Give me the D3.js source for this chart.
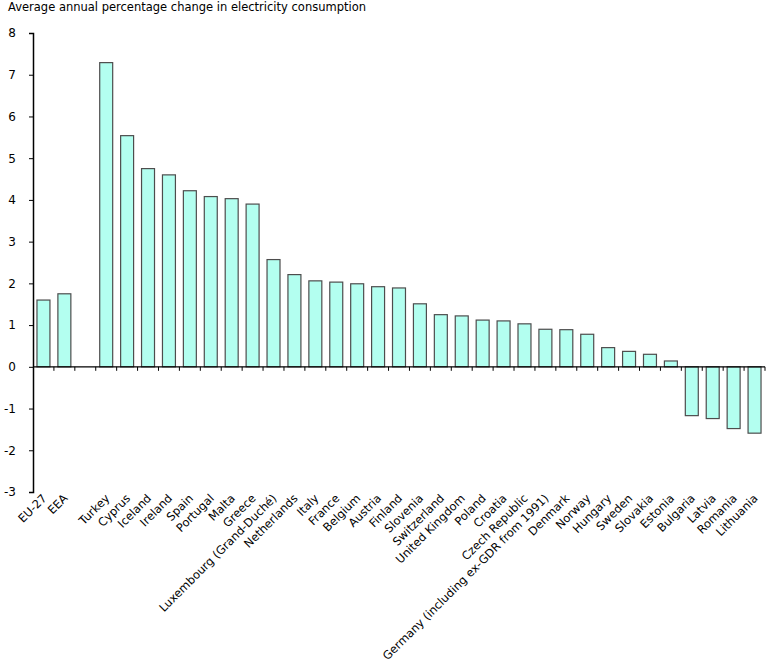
<!DOCTYPE html>
<html>
<head>
<meta charset="utf-8">
<script src="https://cdn.jsdelivr.net/npm/d3@7"></script>
<style>
  body { margin: 0; background: #fff; }
  svg text { font-family: "DejaVu Sans", Verdana, sans-serif; fill: #000; }
</style>
</head>
<body>
<div id="chart"></div>
<script>
// Data
let countries = ["EU-27", "EEA", "", "Turkey", "Cyprus", "Iceland", "Ireland", "Spain",
    "Portugal", "Malta", "Greece", "Luxembourg (Grand-Duché)", "Netherlands", "Italy",
    "France", "Belgium", "Austria", "Finland", "Slovenia", "Switzerland", "United Kingdom",
    "Poland", "Croatia", "Czech Republic", "Germany (including ex-GDR from 1991)", "Denmark",
    "Norway", "Hungary", "Sweden", "Slovakia", "Estonia", "Bulgaria", "Latvia", "Romania",
    "Lithuania"];

let changes = [1.60, 1.75, null, 7.29, 5.54, 4.75, 4.60, 4.22,
    4.08, 4.03, 3.90, 2.57, 2.21, 2.06,
    2.03, 1.99, 1.92, 1.89, 1.51, 1.25, 1.22,
    1.12, 1.10, 1.03, 0.90, 0.89,
    0.78, 0.46, 0.37, 0.30, 0.14, -1.17, -1.24, -1.48,
    -1.59];

let yTicks = [-3, -2, -1, 0, 1, 2, 3, 4, 5, 6, 7, 8];

let title = "Average annual percentage change in electricity consumption";

let WIDTH = 768,
    HEIGHT = 667,
    LEFT = 33,
    RIGHT = 765,
    TOP = 33,
    BOTTOM = 492;

let svg = d3.select("#chart")
    .append("svg")
    .attr("width", WIDTH)
    .attr("height", HEIGHT);

let x = d3.scaleBand()
    .domain(d3.range(countries.length))
    .range([LEFT, RIGHT])
    .paddingInner(0.38)
    .paddingOuter(0.19);

let y = d3.scaleLinear()
    .domain([-3, 8])
    .range([BOTTOM, TOP]);

// title
svg.append("text")
    .attr("x", 8)
    .attr("y", 11)
    .style("font-size", "11.5px")
    .text(title);

// bars
svg.selectAll(".bar")
    .data(changes.map((v, i) => ({v: v, i: i})).filter(d => d.v !== null))
    .enter()
    .append("rect")
    .attr("class", "bar")
    .attr("x", d => x(d.i))
    .attr("width", x.bandwidth())
    .attr("y", d => y(Math.max(0, d.v)))
    .attr("height", d => Math.abs(y(d.v) - y(0)))
    .attr("fill", "#b3fff0")
    .attr("stroke", "#4d4d4d")
    .attr("stroke-width", 1.2);

// y axis
let yAxis = svg.append("g")
    .attr("transform", `translate(${LEFT},0)`)
    .call(d3.axisLeft(y).tickValues(yTicks).tickSize(4).tickSizeOuter(4).tickFormat(d3.format("d")));
yAxis.select(".domain").attr("stroke", "#000").attr("stroke-width", 1.5);
yAxis.selectAll(".tick line").attr("stroke", "#000");
yAxis.selectAll(".tick text")
    .attr("x", -17)
    .style("font-size", "12px")
    .text(d => d < 0 ? "-" + Math.abs(d) : d);

// zero line with category-boundary ticks
let boundaries = d3.range(countries.length + 1).map(i => LEFT + i * (RIGHT - LEFT) / countries.length);
svg.append("line")
    .attr("x1", LEFT).attr("x2", RIGHT)
    .attr("y1", y(0)).attr("y2", y(0))
    .attr("stroke", "#000").attr("stroke-width", 1.2);
svg.selectAll(".xtick")
    .data(boundaries.slice(1))
    .enter()
    .append("line")
    .attr("x1", d => d).attr("x2", d => d)
    .attr("y1", y(0)).attr("y2", y(0) + 4)
    .attr("stroke", "#000");

// category labels, rotated
svg.selectAll(".xlabel")
    .data(countries)
    .enter()
    .append("text")
    .attr("text-anchor", "end")
    .style("font-size", "11.5px")
    .attr("transform", (d, i) => `translate(${x(i) + x.bandwidth() / 2 + 4},${BOTTOM + 7}) rotate(-45)`)
    .text(d => d);
</script>
</body>
</html>
